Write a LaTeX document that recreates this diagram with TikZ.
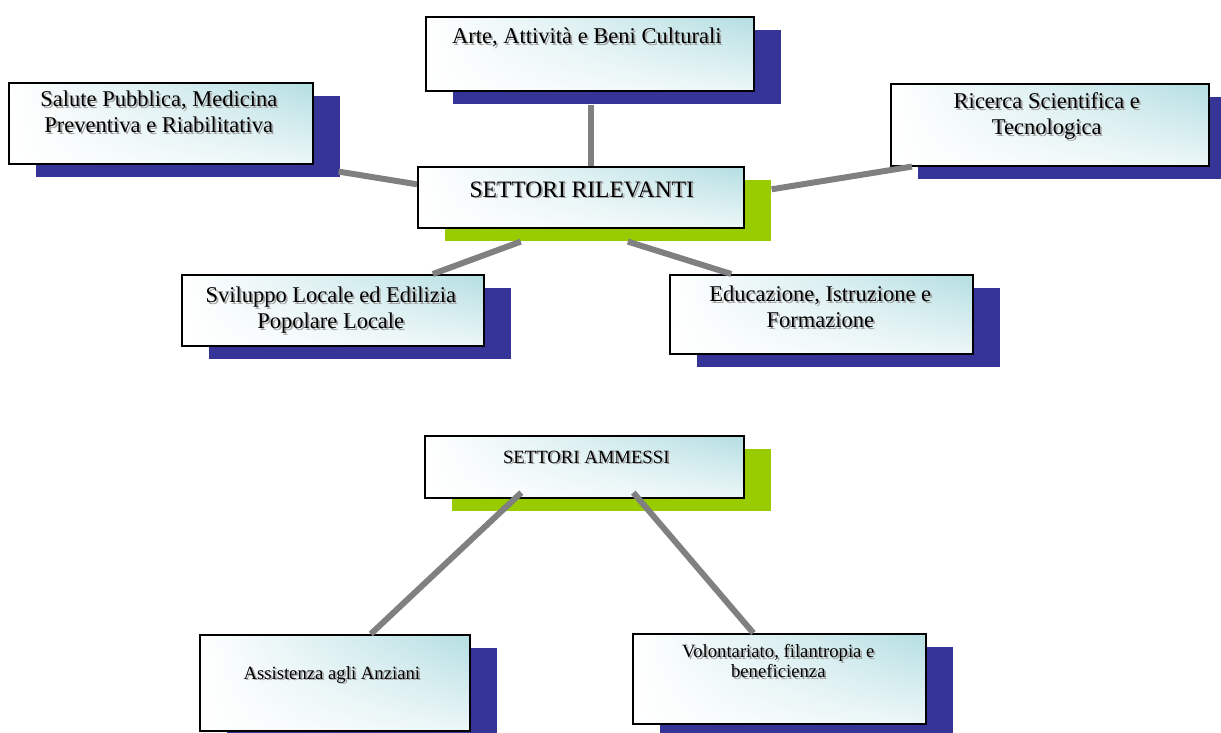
\documentclass[tikz,border=0pt]{standalone}
\usepackage{fontspec}
\setmainfont{Liberation Serif}
\usetikzlibrary{positioning,calc,shadows,shadings}
\definecolor{shblue}{RGB}{55,52,152}
\definecolor{shgreen}{RGB}{153,204,0}
\definecolor{boxcyan}{RGB}{180,222,226}
\definecolor{linkgray}{RGB}{128,128,128}
\definecolor{txtshadow}{RGB}{165,165,165}
\newcommand{\shtx}[1]{\rlap{\kern1.8pt\raisebox{-1.8pt}{\textcolor{txtshadow}{#1}}}#1}
\begin{document}
\begin{tikzpicture}[x=1pt, y=-1pt,
  sbox/.style={draw=black, line width=1.6pt, shade, upper left=white, upper right=boxcyan,
    lower left=white, lower right=boxcyan!25!white, anchor=north west, inner sep=0pt},
  blueshd/.style={general shadow={fill=shblue, shadow xshift=27pt, shadow yshift=-13pt}},
  greenshd/.style={general shadow={fill=shgreen, shadow xshift=27pt, shadow yshift=-13pt}},
  big/.style={font=\fontsize{22.5}{26}\selectfont, align=center, inner sep=0pt},
  small/.style={font=\fontsize{18.7}{20.5}\selectfont, align=center, inner sep=0pt},
  link/.style={draw=linkgray, line width=6pt}]
\useasboundingbox (0,0) rectangle (1221,733);
% settori rilevanti
\node[sbox, blueshd, minimum width=328pt, minimum height=74pt] (arte) at (425,16) {};
\node[big, below=11.6pt of arte.north, xshift=-3pt] (arte-t) {\shtx{Arte, Attività e Beni Culturali}};
\node[sbox, blueshd, minimum width=304pt, minimum height=81pt] (sal) at (8,82) {};
\node[big, below=8.6pt of sal.north, xshift=-2pt] (sal-t) {\shtx{Salute Pubblica, Medicina}\\\shtx{Preventiva e Riabilitativa}};
\node[sbox, blueshd, minimum width=318pt, minimum height=82pt] (ric) at (890,83) {};
\node[big, below=9.6pt of ric.north, xshift=-3pt] (ric-t) {\shtx{Ricerca Scientifica e}\\\shtx{Tecnologica}};
\node[sbox, greenshd, minimum width=326pt, minimum height=61pt] (ril) at (417,166) {};
\node[big, font=\fontsize{23.5}{26}\selectfont, below=15.4pt of ril.north, xshift=1pt] (ril-t) {\shtx{SETTORI RILEVANTI}};
\node[sbox, blueshd, minimum width=302pt, minimum height=71pt] (svi) at (181,274) {};
\node[big, below=12.6pt of svi.north, xshift=-2pt] (svi-t) {\shtx{Sviluppo Locale ed Edilizia}\\\shtx{Popolare Locale}};
\node[sbox, blueshd, minimum width=303pt, minimum height=79pt] (edu) at (669,274) {};
\node[big, below=11.6pt of edu.north, xshift=-1pt] (edu-t) {\shtx{Educazione, Istruzione e}\\\shtx{Formazione}};
% settori ammessi
\node[sbox, greenshd, minimum width=319pt, minimum height=62pt] (amm) at (424,435) {};
\node[small, below=15.6pt of amm.north, xshift=2pt] (amm-t) {\shtx{SETTORI AMMESSI}};
\node[sbox, blueshd, minimum width=270pt, minimum height=96pt] (ass) at (199,634) {};
\node[small, below=32pt of ass.north, xshift=-3pt] (ass-t) {\shtx{Assistenza agli Anziani}};
\node[sbox, blueshd, minimum width=293pt, minimum height=90pt] (vol) at (632,633) {};
\node[small, below=11pt of vol.north, xshift=-1pt] (vol-t) {\shtx{Volontariato, filantropia e}\\\shtx{beneficienza}};
% collegamenti
\draw[link] ($(arte.south)+(1,13)$) -- ($(ril.north)+(10,0)$);
\draw[link] ($(sal.south east)+(25,7)$) -- ($(ril.west)+(0,-13)$);
\draw[link] ($(ril.east)+(27,-8)$) -- ($(ric.south west)+(22,0)$);
\draw[link] ($(ril.south)+(-60,13)$) -- ($(svi.north)+(100,0)$);
\draw[link] ($(ril.south)+(47,13)$) -- ($(edu.north)+(-90,0)$);
\draw[link] ($(amm.south)+(-63,-6)$) -- ($(ass.north)+(36,0)$);
\draw[link] ($(amm.south)+(49,-6)$) -- ($(vol.north)+(-26,0)$);
\end{tikzpicture}
\end{document}
